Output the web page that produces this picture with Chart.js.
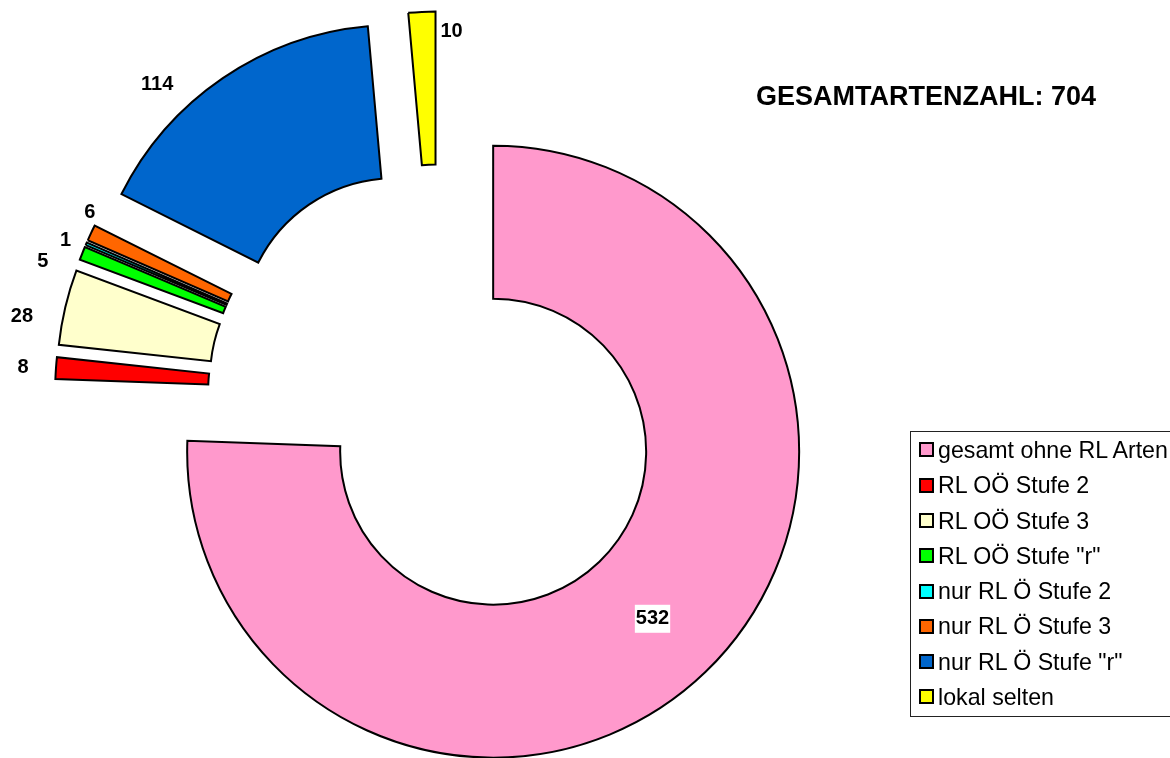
<!DOCTYPE html>
<html>
<head>
<meta charset="utf-8">
<script src="https://cdn.jsdelivr.net/npm/chart.js@4.4.0/dist/chart.umd.min.js"></script>
<style>
  body { margin: 0; background: #fff; font-family: "Liberation Sans", Arial, sans-serif; }
  #wrap { position: relative; width: 1170px; height: 758px; overflow: hidden; }
  #chart { position: absolute; left: 0; top: 0; }
  #title { position: absolute; left: 756px; top: 83px; font-size: 27px; font-weight: bold; line-height: 27px; white-space: nowrap; }
  #legend { position: absolute; left: 910px; top: 431px; width: 270px; height: 286px; border: 1px solid #222; box-sizing: border-box; padding-top: 1px; }
  .row { height: 35.3px; line-height: 35.3px; font-size: 23.2px; white-space: nowrap; padding-left: 8px; }
  .sw { display: inline-block; width: 11px; height: 11px; border: 2px solid #000; margin-right: 4px; vertical-align: middle; position: relative; top: -2px; }
</style>
</head>
<body>
<div id="wrap">
  <canvas id="chart" width="1170" height="758"></canvas>
  <div id="title"></div>
  <div id="legend"></div>
</div>
<script>
// Werte aus dem Bild
const categories = [
  "gesamt ohne RL Arten", "RL OÖ Stufe 2", "RL OÖ Stufe 3", "RL OÖ Stufe \"r\"",
  "nur RL Ö Stufe 2", "nur RL Ö Stufe 3", "nur RL Ö Stufe \"r\"", "lokal selten"
];
const speciesCounts = [532, 8, 28, 5, 1, 6, 114, 10];
const sliceColors = ["#FF99CC", "#FF0000", "#FFFFCC", "#00FF00", "#00FFFF", "#FF6600", "#0066CC", "#FFFF00"];
const titleLabel = "GESAMTARTENZAHL";

// Explosion (px) und Verschiebung der Beschriftungen
const EXPLODE = 78;
const labelShiftDeg = [0, 0, -2.8, -3.4, -0.6, 3.5, -9.5, 5.75];
const labelGap = [0, 33, 41, 35, 21, 11, 38, -17.5];

const total = speciesCounts.reduce((a, b) => a + b, 0);
document.getElementById('title').textContent = titleLabel + ": " + total;

// Legende
const legend = document.getElementById('legend');
categories.forEach((name, i) => {
  const row = document.createElement('div');
  row.className = 'row';
  const sw = document.createElement('span');
  sw.className = 'sw';
  sw.style.background = sliceColors[i];
  row.appendChild(sw);
  row.appendChild(document.createTextNode(name));
  legend.appendChild(row);
});

// jedes Segment radial nach außen schieben (wie Excel "explodiert")
const explodePlugin = {
  id: 'explode',
  afterDatasetUpdate(chart, args) {
    const meta = chart.getDatasetMeta(args.index);
    meta.data.forEach(arc => {
      const mid = (arc.startAngle + arc.endAngle) / 2;
      arc.x += Math.cos(mid) * EXPLODE;
      arc.y += Math.sin(mid) * EXPLODE;
    });
  }
};

const valueLabels = {
  id: 'valueLabels',
  afterDatasetsDraw(chart) {
    const c = chart.ctx;
    const arcs = chart.getDatasetMeta(0).data;
    c.save();
    c.font = 'bold 20px "Liberation Sans", Arial, sans-serif';
    c.textAlign = 'center';
    c.textBaseline = 'middle';
    arcs.forEach((arc, i) => {
      const ang = (arc.startAngle + arc.endAngle) / 2 + labelShiftDeg[i] * Math.PI / 180;
      const r = i === 0 ? (arc.innerRadius + arc.outerRadius) / 2 : arc.outerRadius + labelGap[i];
      const x = arc.x + Math.cos(ang) * r;
      const y = arc.y + Math.sin(ang) * r + 2;
      const txt = String(speciesCounts[i]);
      if (i === 0) {
        const w = c.measureText(txt).width;
        c.fillStyle = '#fff';
        c.fillRect(x - w / 2 - 1, y - 14, w + 2, 28);
      }
      c.fillStyle = '#000';
      c.fillText(txt, x, y);
    });
    c.restore();
  }
};

new Chart(document.getElementById('chart'), {
  type: 'doughnut',
  data: {
    labels: categories,
    datasets: [{
      data: speciesCounts,
      backgroundColor: sliceColors,
      borderColor: '#000',
      borderWidth: 2,
      borderJoinStyle: 'miter',
      clip: false
    }]
  },
  options: {
    responsive: false,
    animation: false,
    radius: 306,
    cutout: '50%',
    events: [],
    layout: { padding: { left: 0, right: 292, top: 33, bottom: 0 } },
    plugins: {
      legend: { display: false },
      tooltip: { enabled: false }
    }
  },
  plugins: [explodePlugin, valueLabels]
});
</script>
</body>
</html>
